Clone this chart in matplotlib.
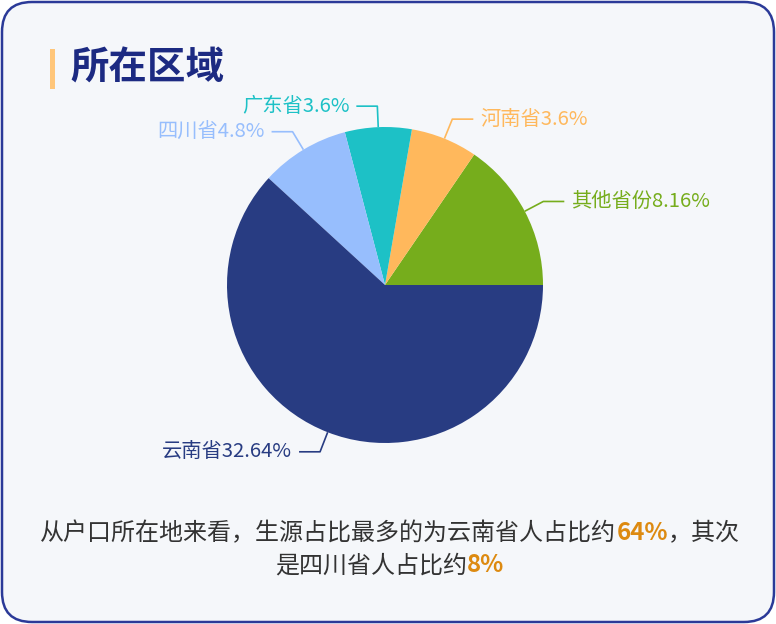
import matplotlib
matplotlib.use("Agg")
import matplotlib.pyplot as plt
from matplotlib.patches import FancyBboxPatch, Rectangle
import numpy as np

plt.rcParams['font.family'] = ['Noto Sans CJK SC', 'DejaVu Sans']

# 数据
regions = ['其他省份', '河南省', '广东省', '四川省', '云南省']
values = [8.16, 3.6, 3.6, 4.8, 32.64]
colors = ['#76ad1c', '#ffb85c', '#1dc1c6', '#97befd', '#283c82']

title = '所在区域'
summary_line1 = [('从户口所在地来看，生源占比最多的为云南省人占比约', False), ('64%', True), ('，其次', False)]
summary_line2 = [('是四川省人占比约', False), ('8%', True)]

W, H = 776, 624
fig = plt.figure(figsize=(W / 100, H / 100), dpi=100)
fig.patch.set_facecolor('white')
ax = fig.add_axes([0, 0, 1, 1])
ax.set_xlim(0, W)
ax.set_ylim(H, 0)
ax.axis('off')

# 卡片背景
card = FancyBboxPatch((2, 2), W - 4, H - 4, boxstyle="round,pad=0,rounding_size=30",
                      facecolor='#f5f7fa', edgecolor='#2b3a98', linewidth=1.8)
ax.add_patch(card)

# 标题
ax.add_patch(Rectangle((50, 49), 5, 40, facecolor='#ffc67a', edgecolor='none'))
ax.text(70, 68, title, fontsize=27.7, fontweight='bold', color='#1c2a82', va='center', ha='left')

# 饼图 (y轴向下，所以用顺时针方向等价于标准逆时针)
cx, cy, r = 385, 285, 158
wedges, _ = ax.pie(values, colors=colors, center=(cx, cy), radius=r,
                   startangle=0, counterclock=False, frame=True,
                   wedgeprops=dict(linewidth=0))
ax.set_xlim(0, W)
ax.set_ylim(H, 0)
ax.axis('off')

len1, len2, gap = 21, 21, 7
for w, name, v, c in zip(wedges, regions, values, colors):
    mid = np.deg2rad((w.theta1 + w.theta2) / 2)
    dx, dy = np.cos(mid), np.sin(mid)
    x0, y0 = cx + r * dx, cy + r * dy
    x1, y1 = cx + (r + len1) * dx, cy + (r + len1) * dy
    side = 1 if dx >= 0 else -1
    x2 = x1 + side * len2
    ax.plot([x0, x1, x2], [y0, y1, y1], color=c, lw=1.2, solid_capstyle='butt')
    ax.text(x2 + side * gap, y1, f'{name}{v:g}%', color=c, fontsize=14.6,
            ha='left' if side > 0 else 'right', va='center')

# 底部说明文字
fig.canvas.draw()
renderer = fig.canvas.get_renderer()


def draw_line(parts, y):
    arts = []
    for txt, bold in parts:
        t = ax.text(0, y, txt, fontsize=17.3, va='baseline', ha='left',
                    fontweight='bold' if bold else 'normal',
                    color='#dd8a10' if bold else '#333333')
        arts.append(t)
    widths = [a.get_window_extent(renderer).width for a in arts]
    x = W / 2 + 2 - sum(widths) / 2
    for a, wd in zip(arts, widths):
        a.set_x(x)
        x += wd


draw_line(summary_line1, 540)
draw_line(summary_line2, 572)

fig.savefig('out.png', dpi=100)
